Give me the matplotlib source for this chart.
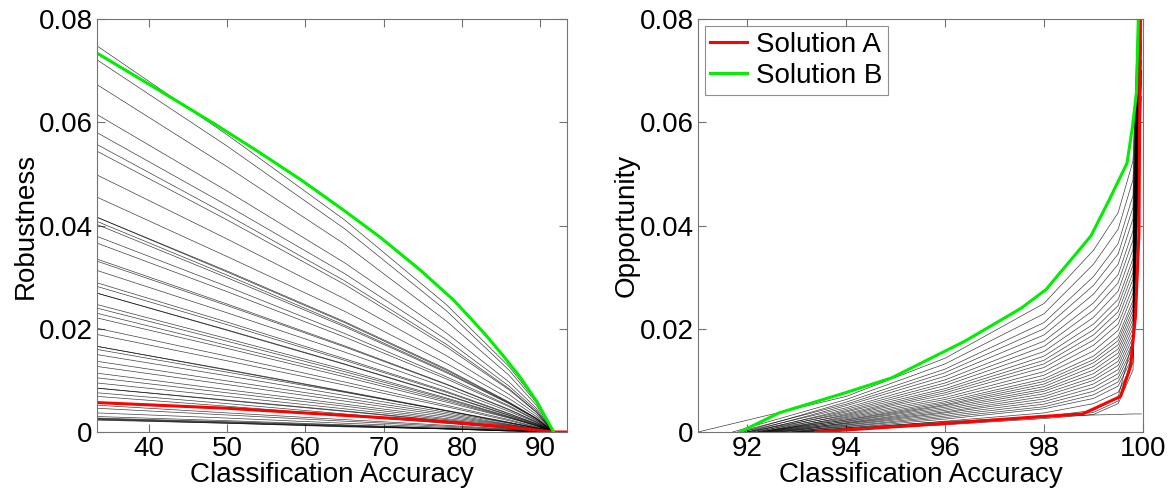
import numpy as np
import matplotlib
matplotlib.use('Agg')
import matplotlib.pyplot as plt

plt.rcParams['font.family'] = ['Liberation Sans', 'DejaVu Sans']

# ---- left panel: robustness vs accuracy ----
# thin lines, y read at fixed accuracies, all end at (91.7, 0)
rob_x = [33.4, 50, 65, 78, 86, 89.5, 91.7]
rob_lines = [
    [0.0748, 0.0576, 0.0411, 0.0247, 0.0127, 0.0060, 0],
    [0.0721, 0.0554, 0.0394, 0.0235, 0.0120, 0.0057, 0],
    [0.0673, 0.0514, 0.0364, 0.0215, 0.0110, 0.0052, 0],
    [0.0615, 0.0467, 0.0328, 0.0192, 0.0097, 0.0046, 0],
    [0.0580, 0.0439, 0.0307, 0.0179, 0.0089, 0.0042, 0],
    [0.0557, 0.0421, 0.0293, 0.0170, 0.0084, 0.0039, 0],
    [0.0544, 0.0411, 0.0286, 0.0165, 0.0082, 0.0038, 0],
    [0.0498, 0.0374, 0.0258, 0.0148, 0.0073, 0.0034, 0],
    [0.0455, 0.0340, 0.0234, 0.0133, 0.0065, 0.0030, 0],
    [0.0416, 0.0310, 0.0212, 0.0120, 0.0057, 0.0026, 0],
    [0.0416, 0.0312, 0.0214, 0.0122, 0.0058, 0.0027, 0],
    [0.0408, 0.0304, 0.0207, 0.0117, 0.0056, 0.0026, 0],
    [0.0402, 0.0299, 0.0204, 0.0115, 0.0055, 0.0025, 0],
    [0.0379, 0.0282, 0.0191, 0.0107, 0.0051, 0.0023, 0],
    [0.0366, 0.0272, 0.0184, 0.0103, 0.0049, 0.0022, 0],
    [0.0335, 0.0248, 0.0167, 0.0093, 0.0044, 0.0020, 0],
    [0.0331, 0.0245, 0.0165, 0.0092, 0.0043, 0.0019, 0],
    [0.0313, 0.0231, 0.0155, 0.0086, 0.0040, 0.0018, 0],
    [0.0289, 0.0213, 0.0142, 0.0079, 0.0036, 0.0016, 0],
    [0.0282, 0.0208, 0.0139, 0.0077, 0.0035, 0.0016, 0],
    [0.0269, 0.0198, 0.0132, 0.0072, 0.0033, 0.0015, 0],
    [0.0269, 0.0197, 0.0131, 0.0071, 0.0032, 0.0014, 0],
    [0.0247, 0.0181, 0.0121, 0.0066, 0.0030, 0.0013, 0],
    [0.0240, 0.0176, 0.0117, 0.0064, 0.0029, 0.0013, 0],
    [0.0230, 0.0168, 0.0112, 0.0061, 0.0028, 0.0012, 0],
    [0.0221, 0.0162, 0.0107, 0.0058, 0.0027, 0.0012, 0],
    [0.0201, 0.0147, 0.0097, 0.0052, 0.0024, 0.0010, 0],
    [0.0189, 0.0138, 0.0091, 0.0049, 0.0022, 0.0009, 0],
    [0.0166, 0.0121, 0.0079, 0.0042, 0.0019, 0.0008, 0],
    [0.0166, 0.0120, 0.0078, 0.0041, 0.0018, 0.0008, 0],
    [0.0160, 0.0116, 0.0077, 0.0041, 0.0018, 0.0008, 0],
    [0.0150, 0.0109, 0.0071, 0.0038, 0.0017, 0.0007, 0],
    [0.0137, 0.0099, 0.0065, 0.0035, 0.0015, 0.0006, 0],
    [0.0127, 0.0092, 0.0060, 0.0032, 0.0014, 0.0006, 0],
    [0.0114, 0.0082, 0.0054, 0.0029, 0.0013, 0.0005, 0],
    [0.0105, 0.0076, 0.0050, 0.0026, 0.0012, 0.0005, 0],
    [0.0095, 0.0069, 0.0045, 0.0024, 0.0010, 0.0004, 0],
    [0.0085, 0.0061, 0.0040, 0.0021, 0.0009, 0.0004, 0],
    [0.0085, 0.0062, 0.0041, 0.0022, 0.0010, 0.0004, 0],
    [0.0076, 0.0055, 0.0035, 0.0018, 0.0008, 0.0003, 0],
    [0.0069, 0.0050, 0.0032, 0.0017, 0.0007, 0.0003, 0],
    [0.0052, 0.0037, 0.0024, 0.0013, 0.0006, 0.0002, 0],
    [0.0046, 0.0033, 0.0021, 0.0011, 0.0005, 0.0002, 0],
    [0.0037, 0.0027, 0.0017, 0.0009, 0.0004, 0.0002, 0],
    [0.0030, 0.0022, 0.0014, 0.0007, 0.0003, 0.0001, 0],
    [0.0027, 0.0020, 0.0013, 0.0007, 0.0003, 0.0001, 0],
    [0.0026, 0.0019, 0.0012, 0.0006, 0.0003, 0.0001, 0],
    [0.0025, 0.0018, 0.0011, 0.0006, 0.0002, 0.0001, 0],
    [0.0024, 0.0017, 0.0011, 0.0006, 0.0002, 0.0001, 0],
    [0.0023, 0.0017, 0.0010, 0.0006, 0.0002, 0.0001, 0],
]

rob_a_x = [33.4, 50, 62, 75, 85, 91.7, 93.4]
rob_a_y = [0.0057, 0.0046, 0.0035, 0.0023, 0.0011, 0.0, 0.0]
rob_b_x = [33.4, 41.0, 48.5, 54.0, 59.3, 64.5, 69.5, 74.65, 78.9, 81.0,
           83.2, 85.3, 87.4, 89.6, 91.7]
rob_b_y = [0.0734, 0.0665, 0.0596, 0.0543, 0.0490, 0.0434, 0.0378, 0.0314,
           0.0256, 0.0222, 0.0185, 0.0147, 0.0107, 0.0058, 0.0]

# ---- right panel: opportunity vs accuracy ----
# thin lines: start accuracy (y=0), then y read at fixed accuracies
opp_x = [94, 96, 98, 99, 99.5, 99.8, 99.97]
opp_start = [93.2, 93.0, 92.8, 92.6, 92.9, 92.5, 92.7, 92.4, 92.6, 92.3,
             92.5, 92.2, 92.4, 92.3, 92.2, 92.4, 92.1, 92.3, 92.0, 92.2,
             92.0, 92.1, 91.9, 92.0, 91.8, 91.9, 91.7, 91.0,
             93.1, 92.9, 93.3, 93.0]
opp_lines = [
    [0.0006, 0.0021, 0.0037, 0.0055, 0.0077, 0.0134, 0.065],
    [0.0008, 0.0025, 0.0045, 0.0065, 0.0089, 0.0147, 0.070],
    [0.0010, 0.0028, 0.0049, 0.0072, 0.0097, 0.0156, 0.075],
    [0.0011, 0.0031, 0.0054, 0.0079, 0.0105, 0.0165, 0.080],
    [0.0013, 0.0034, 0.0059, 0.0086, 0.0113, 0.0174, 0.068],
    [0.0014, 0.0037, 0.0064, 0.0093, 0.0121, 0.0183, 0.085],
    [0.0016, 0.0039, 0.0069, 0.0100, 0.0129, 0.0192, 0.072],
    [0.0017, 0.0042, 0.0074, 0.0106, 0.0137, 0.0201, 0.090],
    [0.0018, 0.0045, 0.0079, 0.0113, 0.0145, 0.0210, 0.076],
    [0.0020, 0.0048, 0.0083, 0.0120, 0.0153, 0.0219, 0.095],
    [0.0021, 0.0051, 0.0088, 0.0127, 0.0161, 0.0228, 0.082],
    [0.0023, 0.0053, 0.0093, 0.0134, 0.0169, 0.0237, 0.088],
    [0.0024, 0.0056, 0.0098, 0.0140, 0.0177, 0.0246, 0.070],
    [0.0026, 0.0059, 0.0103, 0.0147, 0.0185, 0.0255, 0.090],
    [0.0028, 0.0063, 0.0110, 0.0157, 0.0197, 0.0269, 0.078],
    [0.0030, 0.0067, 0.0117, 0.0168, 0.0209, 0.0282, 0.096],
    [0.0032, 0.0072, 0.0125, 0.0178, 0.0221, 0.0296, 0.085],
    [0.0034, 0.0076, 0.0132, 0.0188, 0.0233, 0.0309, 0.100],
    [0.0036, 0.0080, 0.0139, 0.0198, 0.0245, 0.0323, 0.090],
    [0.0039, 0.0084, 0.0147, 0.0209, 0.0257, 0.0336, 0.095],
    [0.0041, 0.0090, 0.0156, 0.0222, 0.0273, 0.0354, 0.100],
    [0.0044, 0.0095, 0.0166, 0.0236, 0.0289, 0.0372, 0.090],
    [0.0047, 0.0101, 0.0176, 0.0250, 0.0305, 0.0390, 0.100],
    [0.0051, 0.0108, 0.0188, 0.0267, 0.0325, 0.0413, 0.095],
    [0.0054, 0.0115, 0.0200, 0.0284, 0.0345, 0.0435, 0.100],
    [0.0058, 0.0122, 0.0212, 0.0301, 0.0365, 0.0458, 0.100],
    [0.0063, 0.0132, 0.0229, 0.0325, 0.0393, 0.0489, 0.100],
    [0.0069, 0.0143, 0.0249, 0.0352, 0.0425, 0.0525, 0.100],
    [0.0005, 0.0016, 0.0028, 0.0038, 0.0060, 0.0150, 0.090],
    [0.0006, 0.0018, 0.0030, 0.0042, 0.0068, 0.0180, 0.085],
    [0.0004, 0.0014, 0.0026, 0.0034, 0.0055, 0.0120, 0.095],
    [0.0008, 0.0020, 0.0030, 0.0033, 0.0034, 0.0035, 0.0035],
]

opp_a_x = [93.38, 96.06, 97.94, 98.78, 99.55, 99.75, 99.85, 99.92, 99.95]
opp_a_y = [0.0, 0.0017, 0.0030, 0.0035, 0.0069, 0.0127, 0.0224, 0.0385, 0.085]
opp_b_x = [91.85, 92.64, 93.98, 94.92, 96.40, 97.54, 98.04, 98.61, 98.95,
           99.32, 99.68, 99.79, 99.87, 99.92]
opp_b_y = [0.0, 0.0037, 0.0076, 0.0105, 0.0176, 0.0240, 0.0276, 0.0341, 0.0380,
           0.0450, 0.0521, 0.0592, 0.0657, 0.085]

yticks = [0, 0.02, 0.04, 0.06, 0.08]
ytick_labels = ['0', '0.02', '0.04', '0.06', '0.08']

fig = plt.figure(figsize=(11.74, 4.93), dpi=100)
ax1 = fig.add_axes([0.0826, 0.1237, 0.4003, 0.8377])
ax2 = fig.add_axes([0.5945, 0.1237, 0.3790, 0.8377])


def style_axes(ax):
    for s in ax.spines.values():
        s.set_color('0.45')
        s.set_linewidth(0.8)
    ax.tick_params(direction='in', top=True, right=True, length=6,
                   color='0.45', labelsize=20, labelcolor='black', pad=3)
    ax.set_yticks(yticks)
    ax.set_yticklabels(ytick_labels)
    ax.set_ylim(0, 0.08)


# left
for row in rob_lines:
    ax1.plot(rob_x, row, color='black', lw=0.5, alpha=0.75)
ax1.plot(rob_a_x, rob_a_y, color='#ff0000', lw=2.2)
ax1.plot(rob_b_x, rob_b_y, color='#00ee00', lw=2.2)
ax1.set_xlim(33.4, 93.4)
ax1.set_xticks([40, 50, 60, 70, 80, 90])
style_axes(ax1)
ax1.set_xlabel('Classification Accuracy', fontsize=20, labelpad=0)
ax1.set_ylabel('Robustness', fontsize=20, labelpad=0)

# right
for x0, row in zip(opp_start, opp_lines):
    ax2.plot([x0] + opp_x, [0] + row, color='black', lw=0.5, alpha=0.75)
ax2.plot(opp_a_x, opp_a_y, color='#ff0000', lw=2.2, label='Solution A')
ax2.plot(opp_b_x, opp_b_y, color='#00ee00', lw=2.2, label='Solution B')
ax2.set_xlim(91, 100)
ax2.set_xticks([92, 94, 96, 98, 100])
style_axes(ax2)
ax2.set_xlabel('Classification Accuracy', fontsize=20, labelpad=0)
ax2.set_ylabel('Opportunity', fontsize=20, labelpad=0)

leg = ax2.legend(loc='upper left', fontsize=20, handlelength=1.3,
                 handletextpad=0.35, borderpad=0.2, labelspacing=0.2,
                 borderaxespad=0.25, fancybox=False)
leg.get_frame().set_edgecolor('0.45')
leg.get_frame().set_linewidth(0.8)

fig.savefig('out.png', dpi=100)
